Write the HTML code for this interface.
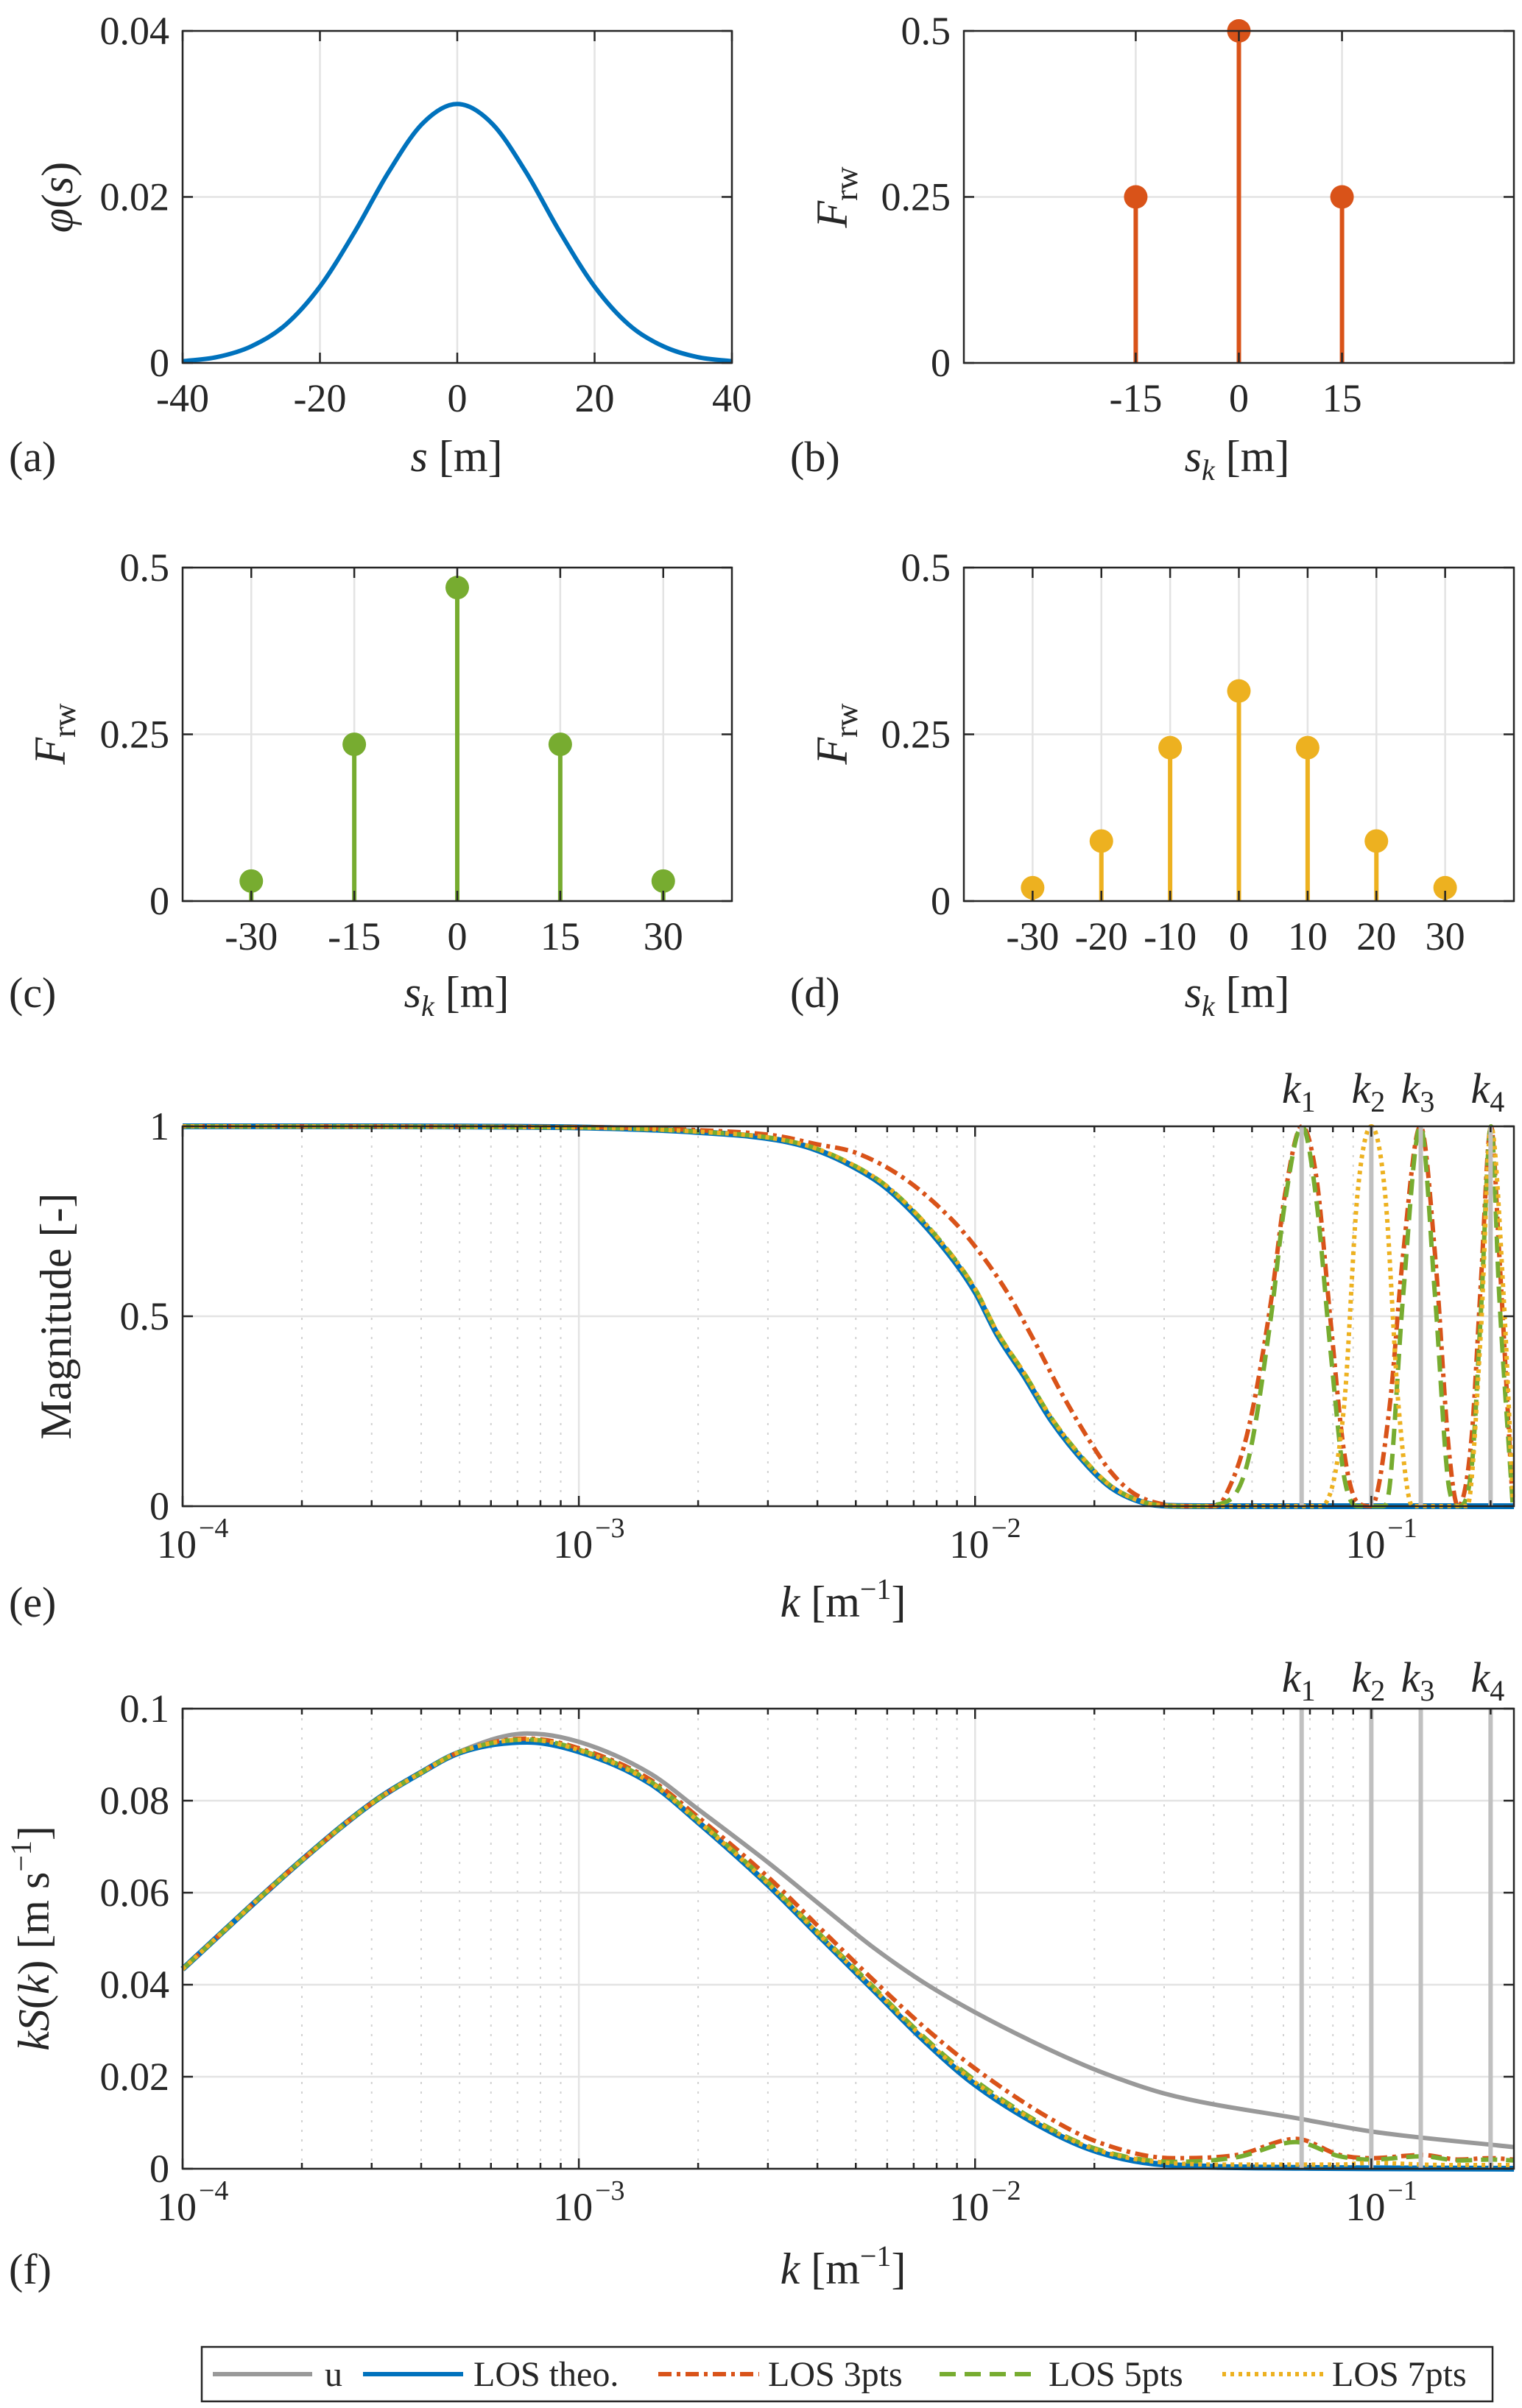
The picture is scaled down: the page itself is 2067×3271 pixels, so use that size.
<!DOCTYPE html>
<html><head><meta charset="utf-8"><style>
html,body{margin:0;padding:0;background:#fff;}
svg{display:block;font-family:"Liberation Serif","DejaVu Serif",serif;}
svg text{font-family:"Liberation Serif","DejaVu Serif",serif;}
</style></head><body>
<svg id="fig" width="2067" height="3271" viewBox="0 0 2067 3271" xmlns="http://www.w3.org/2000/svg" font-family="Liberation Serif, DejaVu Serif, serif"></svg>
<script>
// ---------- data ----------
const phiS = [-40,-35,-30,-25,-20,-15,-10,-5,0,5,10,15,20,25,30,35,40];
const phiV = [0.0002,0.0007,0.0020,0.0046,0.0092,0.0157,0.0230,0.0289,0.0312,0.0289,0.0230,0.0157,0.0092,0.0046,0.0020,0.0007,0.0002];
const bS = [-15,0,15];
const bF = [0.25,0.5,0.25];
const cS = [-30,-15,0,15,30];
const cF = [0.03,0.235,0.47,0.235,0.03];
const dS = [-30,-20,-10,0,10,20,30];
const dF = [0.02,0.09,0.23,0.315,0.23,0.09,0.02];
const kMarks = [0.0667,0.1,0.1333,0.2];
const kNames = ["1","2","3","4"];
// (e) magnitude, log10(k) and values
const eTheoK = [-4,-3.5,-3,-2.7,-2.5,-2.405,-2.3,-2.22,-2.094,-2,-1.945,-1.876,-1.806,-1.714,-1.657,-1.576,-1.507,-1.4,-0.64];
const eTheoV = [1,1,0.997,0.985,0.965,0.94,0.89,0.835,0.70,0.565,0.454,0.343,0.224,0.105,0.05,0.01,0.001,0,0];
const e3K = [-4,-3,-2.7,-2.5,-2.405,-2.3,-2.175,-2.06,-2,-1.92,-1.853,-1.783,-1.714,-1.657,-1.6,-1.53,-1.45,-1.392,-1.369,-1.311,-1.253,-1.218,-1.175,-1.138,-1.104,-1.069,-1.035,-1.0,-0.954,-0.92,-0.876,-0.839,-0.804,-0.781,-0.747,-0.724,-0.698,-0.677,-0.643];
const e3V = [1,0.998,0.99,0.975,0.954,0.93,0.86,0.756,0.684,0.565,0.44,0.30,0.177,0.09,0.034,0.006,0,0,0.026,0.2,0.54,0.82,1,0.86,0.5,0.145,0.01,0,0.26,0.66,1,0.66,0.145,0,0.18,0.58,1,0.66,0];
const e5K = [-4,-3,-2.7,-2.5,-2.405,-2.3,-2.22,-2.094,-2,-1.945,-1.876,-1.806,-1.714,-1.657,-1.576,-1.507,-1.45,-1.369,-1.311,-1.253,-1.218,-1.175,-1.138,-1.104,-1.069,-1.035,-0.97,-0.954,-0.92,-0.876,-0.839,-0.804,-0.78,-0.747,-0.724,-0.698,-0.677,-0.643];
const e5V = [1,0.997,0.986,0.967,0.943,0.894,0.84,0.706,0.572,0.46,0.35,0.23,0.11,0.053,0.011,0.001,0,0.01,0.12,0.50,0.8,1,0.8,0.42,0.08,0,0,0.05,0.55,1,0.55,0.05,0,0.1,0.5,1,0.55,0];
const e7K = [-4,-3,-2.7,-2.5,-2.405,-2.3,-2.22,-2.094,-2,-1.945,-1.876,-1.806,-1.714,-1.657,-1.576,-1.507,-1.4,-1.127,-1.069,-1.035,-1.0,-0.965,-0.931,-0.896,-0.758,-0.724,-0.698,-0.666,-0.643];
const e7V = [1,0.997,0.986,0.967,0.943,0.894,0.84,0.706,0.572,0.46,0.35,0.23,0.11,0.053,0.011,0.001,0,0,0.26,0.82,1,0.82,0.26,0,0,0.45,1,0.55,0.02];
// (f) kS(k)
const fK = [-4,-3.7,-3.52,-3.4,-3.3,-3.13,-3,-2.82,-2.7,-2.52,-2.39,-2.26,-2.13,-2,-1.82,-1.69,-1.52,-1.17,-1.0,-0.64];
const fU = [0.0434,0.067,0.0796,0.086,0.0907,0.0946,0.0928,0.0859,0.0782,0.0664,0.0573,0.0483,0.0405,0.0340,0.0262,0.0213,0.0163,0.0107,0.0081,0.0047];
const fTheo = [0.0434,0.067,0.0796,0.086,0.0905,0.0928,0.0907,0.0838,0.0754,0.0615,0.0503,0.0392,0.028,0.0183,0.0086,0.0037,0.0009,0.0002,0.0001,0];
const fLK = [-4,-3.7,-3.52,-3.4,-3.3,-3.13,-3,-2.82,-2.7,-2.52,-2.39,-2.26,-2.13,-2,-1.82,-1.69,-1.5,-1.34,-1.19,-1.08,-1.0,-0.87,-0.78,-0.7,-0.64];
const f3 = [0.0434,0.067,0.0796,0.086,0.0906,0.0935,0.0914,0.0846,0.0765,0.0632,0.0522,0.0413,0.0309,0.0218,0.0114,0.0058,0.0023,0.003,0.0065,0.003,0.0023,0.003,0.002,0.0023,0.002];
const f5 = [0.0434,0.067,0.0796,0.086,0.0906,0.0933,0.0911,0.0842,0.0758,0.0620,0.0508,0.0398,0.0287,0.0192,0.0092,0.0042,0.0015,0.0025,0.0058,0.0027,0.002,0.0027,0.0018,0.002,0.0018];
const f7 = [0.0434,0.067,0.0796,0.086,0.0906,0.0933,0.0910,0.0840,0.0756,0.0618,0.0506,0.0395,0.0284,0.0188,0.0090,0.0040,0.0012,0.0009,0.0009,0.0009,0.0013,0.0009,0.0008,0.0008,0.0008];

// ---------- helpers ----------
const NS="http://www.w3.org/2000/svg";
const FONT="Liberation Serif, DejaVu Serif, serif";
const svg=document.getElementById('fig');
function mk(tag,attrs,parent){const e=document.createElementNS(NS,tag);for(const k in attrs)e.setAttribute(k,attrs[k]);(parent||svg).appendChild(e);return e;}
function txt(x,y,s,size,anchor,parent,italic){const t=mk('text',{x:x,y:y,'font-size':size,'font-family':FONT,'text-anchor':anchor||'middle',fill:'#262626'},parent);if(italic)t.setAttribute('font-style','italic');t.textContent=s;return t;}
const C={blue:'#0072BD',red:'#D95319',yellow:'#EDB120',green:'#77AC30',gray:'#999999',kline:'#c0c0c0'};

function monoPath(px,py){
  const n=px.length; if(n<2) return '';
  const d=[],m=new Array(n);
  for(let i=0;i<n-1;i++) d.push((py[i+1]-py[i])/(px[i+1]-px[i]));
  m[0]=d[0]; m[n-1]=d[n-2];
  for(let i=1;i<n-1;i++){ m[i]=(d[i-1]*d[i]<=0)?0:(d[i-1]+d[i])/2; }
  for(let i=0;i<n-1;i++){ if(d[i]===0){m[i]=0;m[i+1]=0;continue;} const a=m[i]/d[i],b=m[i+1]/d[i],s=a*a+b*b; if(s>9){const t=3/Math.sqrt(s);m[i]=t*a*d[i];m[i+1]=t*b*d[i];} }
  let p='M'+px[0].toFixed(1)+','+py[0].toFixed(1);
  for(let i=0;i<n-1;i++){const h=(px[i+1]-px[i])/3;
    p+=' C'+(px[i]+h).toFixed(1)+','+(py[i]+m[i]*h).toFixed(1)+' '+(px[i+1]-h).toFixed(1)+','+(py[i+1]-m[i+1]*h).toFixed(1)+' '+px[i+1].toFixed(1)+','+py[i+1].toFixed(1);}
  return p;
}

function axes(o){
  const g=mk('g',{});
  
  
  o.g=g;
  o.X=v=>o.log? o.x0+(Math.log10(v)-o.xmin)/(o.xmax-o.xmin)*(o.x1-o.x0) : o.x0+(v-o.xmin)/(o.xmax-o.xmin)*(o.x1-o.x0);
  o.XL=l=>o.x0+(l-o.xmin)/(o.xmax-o.xmin)*(o.x1-o.x0);
  o.Y=v=>o.y1-(v-o.ymin)/(o.ymax-o.ymin)*(o.y1-o.y0);
  mk('rect',{x:o.x0,y:o.y0,width:o.x1-o.x0,height:o.y1-o.y0,fill:'#fff'},g);
  const grid=mk('g',{},g);
  
  
  if(o.log){
    for(let dcd=Math.floor(o.xmin);dcd<=Math.ceil(o.xmax);dcd++){
      for(let m=2;m<=9;m++){const l=dcd+Math.log10(m); if(l<=o.xmin||l>=o.xmax) continue; const x=o.XL(l);
        mk('line',{x1:x,x2:x,y1:o.y0,y2:o.y1,stroke:'#d2d2d2','stroke-width':2,'stroke-dasharray':'3,10'},grid);}
    }
  }
  o.xt.forEach(v=>{const x=o.log?o.XL(v):o.X(v); mk('line',{x1:x,x2:x,y1:o.y0,y2:o.y1,stroke:'#e3e3e3','stroke-width':2.5},grid);});
  o.yt.forEach(v=>{const y=o.Y(v); mk('line',{x1:o.x0,x2:o.x1,y1:y,y2:y,stroke:'#e3e3e3','stroke-width':2.5},grid);});
  o.plot=mk('g',{},g);
  
  
  return o;
}
function finishAxes(o){
  const g=o.g;
  const tk=mk('g',{stroke:'#262626','stroke-width':2.5},g);
  
  
  o.xt.forEach(v=>{const x=o.log?o.XL(v):o.X(v); mk('line',{x1:x,x2:x,y1:o.y1,y2:o.y1-14},tk); mk('line',{x1:x,x2:x,y1:o.y0,y2:o.y0+14},tk);});
  if(o.log){for(let dcd=Math.floor(o.xmin);dcd<=Math.ceil(o.xmax);dcd++){for(let m=2;m<=9;m++){const l=dcd+Math.log10(m); if(l<=o.xmin||l>=o.xmax) continue; const x=o.XL(l);
    mk('line',{x1:x,x2:x,y1:o.y1,y2:o.y1-8},tk); mk('line',{x1:x,x2:x,y1:o.y0,y2:o.y0+8},tk);}}}
  o.yt.forEach(v=>{const y=o.Y(v); mk('line',{x1:o.x0,x2:o.x0+14,y1:y,y2:y},tk); mk('line',{x1:o.x1,x2:o.x1-14,y1:y,y2:y},tk);});
  mk('rect',{x:o.x0,y:o.y0,width:o.x1-o.x0,height:o.y1-o.y0,fill:'none',stroke:'#262626','stroke-width':2.5},g);
  const lb=mk('g',{},g);
  
  
  o.yt.forEach((v,i)=>{txt(o.x0-18,o.Y(v)+18,o.ytl[i],54,'end',lb);});
  o.xt.forEach((v,i)=>{
    if(o.log){const x=o.XL(v); const t=mk('text',{x:x-8,y:o.y1+70,'font-size':54,'font-family':FONT,'text-anchor':'middle',fill:'#262626'},lb); t.textContent='10';
      const s=mk('text',{x:x+22,y:o.y1+42,'font-size':38,'font-family':FONT,'text-anchor':'start',fill:'#262626'},lb); s.textContent='−'+(-v);}
    else txt(o.X(v),o.y1+66,o.xtl[i],54,'middle',lb);
  });
}
function line(o,xs,ys,color,dash,w,name,isLog){
  const px=xs.map(v=>isLog?o.XL(v):o.X(v)), py=ys.map(v=>o.Y(v));
  const p=mk('path',{d:monoPath(px,py),fill:'none',stroke:color,'stroke-width':w||6,'stroke-linejoin':'round'},o.plot);
  if(dash) p.setAttribute('stroke-dasharray',dash);
  
  
}
function stems(o,xs,ys,color,name){
  xs.forEach((v,i)=>{
    const gg=mk('g',{},o.plot);
    
    
    mk('line',{x1:o.X(v),x2:o.X(v),y1:o.Y(0),y2:o.Y(ys[i]),stroke:color,'stroke-width':6},gg);
    mk('circle',{cx:o.X(v),cy:o.Y(ys[i]),r:16,fill:color},gg);
  });
}
function ylabelRot(x,y,parts,name){
  const t=mk('text',{x:0,y:0,'font-size':60,'font-family':FONT,'text-anchor':'middle',fill:'#262626',transform:'translate('+x+','+y+') rotate(-90)'});
  
  
  parts.forEach(p=>{const s=mk('tspan',{},t); s.textContent=p[0]; if(p[1]) s.setAttribute('font-style','italic'); if(p[2]) {s.setAttribute('font-size',p[2]); } if(p[3]) s.setAttribute('dy',p[3]);});
}
function xlabel(x,y,parts,name){
  const t=mk('text',{x:x,y:y,'font-size':60,'font-family':FONT,'text-anchor':'middle',fill:'#262626'});
  
  
  parts.forEach(p=>{const s=mk('tspan',{},t); s.textContent=p[0]; if(p[1]) s.setAttribute('font-style','italic'); if(p[2]) s.setAttribute('font-size',p[2]); if(p[3]) s.setAttribute('dy',p[3]);});
}
function panel(x,y,s,name){const t=txt(x,y,s,58,'start');}

// ---------- (a) ----------
const A=axes({name:'panel-a',x0:248,x1:994,y0:42,y1:493,xmin:-40,xmax:40,ymin:0,ymax:0.04,xt:[-40,-20,0,20,40],xtl:['-40','-20','0','20','40'],yt:[0,0.02,0.04],ytl:['0','0.02','0.04']});
line(A,phiS,phiV,C.blue,null,6,'phi-curve',false);
finishAxes(A);
xlabel(620,640,[['s',1],[' [m]']],'x-axis-title-a');
ylabelRot(98,268,[['φ',1],['('],['s',1],[')']],'y-axis-title-a');
panel(12,640,'(a)','panel-label-a');

// ---------- (b) ----------
const B=axes({name:'panel-b',x0:1309,x1:2056,y0:42,y1:493,xmin:-40,xmax:40,ymin:0,ymax:0.5,xt:[-15,0,15],xtl:['-15','0','15'],yt:[0,0.25,0.5],ytl:['0','0.25','0.5']});
stems(B,bS,bF,C.red,'stem-b');
finishAxes(B);
xlabel(1680,640,[['s',1],['k',1,40,12],[' [m]',null,60,-12]],'x-axis-title-b');
ylabelRot(1150,268,[['F',1],['rw',null,44,14]],'y-axis-title-b');
panel(1073,640,'(b)','panel-label-b');

// ---------- (c) ----------
const Cc=axes({name:'panel-c',x0:248,x1:994,y0:771,y1:1224,xmin:-40,xmax:40,ymin:0,ymax:0.5,xt:[-30,-15,0,15,30],xtl:['-30','-15','0','15','30'],yt:[0,0.25,0.5],ytl:['0','0.25','0.5']});
stems(Cc,cS,cF,C.green,'stem-c');
finishAxes(Cc);
xlabel(620,1368,[['s',1],['k',1,40,12],[' [m]',null,60,-12]],'x-axis-title-c');
ylabelRot(88,997,[['F',1],['rw',null,44,14]],'y-axis-title-c');
panel(12,1368,'(c)','panel-label-c');

// ---------- (d) ----------
const D=axes({name:'panel-d',x0:1309,x1:2056,y0:771,y1:1224,xmin:-40,xmax:40,ymin:0,ymax:0.5,xt:[-30,-20,-10,0,10,20,30],xtl:['-30','-20','-10','0','10','20','30'],yt:[0,0.25,0.5],ytl:['0','0.25','0.5']});
stems(D,dS,dF,C.yellow,'stem-d');
finishAxes(D);
xlabel(1680,1368,[['s',1],['k',1,40,12],[' [m]',null,60,-12]],'x-axis-title-d');
ylabelRot(1150,997,[['F',1],['rw',null,44,14]],'y-axis-title-d');
panel(1073,1368,'(d)','panel-label-d');

// ---------- (e) ----------
const Lmax=Math.log10(0.229);
const E=axes({name:'panel-e',x0:248,x1:2056,y0:1530,y1:2046,xmin:-4,xmax:Lmax,ymin:0,ymax:1,log:true,xt:[-4,-3,-2,-1],yt:[0,0.5,1],ytl:['0','0.5','1']});
line(E,eTheoK,eTheoV,C.blue,null,8,'los-theo-e',true);
line(E,e3K,e3V,C.red,'18,7,5,7',6,'los-3pts-e',true);
line(E,e5K,e5V,C.green,'22,12',6,'los-5pts-e',true);
line(E,e7K,e7V,C.yellow,'5,6',6,'los-7pts-e',true);
kMarks.forEach((k,i)=>{const x=E.X(k); const l=mk('line',{x1:x,x2:x,y1:E.y0,y2:E.y1,stroke:C.kline,'stroke-width':6},E.plot);
  
  });
finishAxes(E);
kMarks.forEach((k,i)=>{const x=E.X(k); const t=mk('text',{x:x-4,y:1498,'font-size':58,'font-family':FONT,'text-anchor':'middle',fill:'#262626'});
  
  
  const a=mk('tspan',{'font-style':'italic'},t);a.textContent='k';const b=mk('tspan',{'font-size':40,dy:12},t);b.textContent=kNames[i];});
xlabel(1145,2196,[['k',1],[' [m'],['−1',null,40,-24],[']',null,60,24]],'x-axis-title-e');
ylabelRot(96,1788,[['Magnitude [-]']],'y-axis-title-e');
panel(12,2196,'(e)','panel-label-e');

// ---------- (f) ----------
const F=axes({name:'panel-f',x0:248,x1:2056,y0:2321,y1:2946,xmin:-4,xmax:Lmax,ymin:0,ymax:0.1,log:true,xt:[-4,-3,-2,-1],yt:[0,0.02,0.04,0.06,0.08,0.1],ytl:['0','0.02','0.04','0.06','0.08','0.1']});
line(F,fK,fU,C.gray,null,6,'u-curve-f',true);
line(F,fK,fTheo,C.blue,null,8,'los-theo-f',true);
line(F,fLK,f3,C.red,'18,7,5,7',6,'los-3pts-f',true);
line(F,fLK,f5,C.green,'22,12',6,'los-5pts-f',true);
line(F,fLK,f7,C.yellow,'5,6',6,'los-7pts-f',true);
kMarks.forEach((k,i)=>{const x=F.X(k); const l=mk('line',{x1:x,x2:x,y1:F.y0,y2:F.y1,stroke:C.kline,'stroke-width':6},F.plot);
  
  });
finishAxes(F);
kMarks.forEach((k,i)=>{const x=F.X(k); const t=mk('text',{x:x-4,y:2298,'font-size':58,'font-family':FONT,'text-anchor':'middle',fill:'#262626'});
  
  
  const a=mk('tspan',{'font-style':'italic'},t);a.textContent='k';const b=mk('tspan',{'font-size':40,dy:12},t);b.textContent=kNames[i];});
xlabel(1145,3102,[['k',1],[' [m'],['−1',null,40,-24],[']',null,60,24]],'x-axis-title-f');
ylabelRot(66,2633,[['kS',1],['('],['k',1],[') [m s'],['−1',null,40,-24],[']',null,60,24]],'y-axis-title-f');
panel(12,3102,'(f)','panel-label-f');

// ---------- legend ----------
const lg=mk('g',{});


mk('rect',{x:274,y:3188,width:1753,height:74,fill:'#fff',stroke:'#262626','stroke-width':2.5},lg);
const legItems=[['u',C.gray,null,289,424,441],['LOS theo.',C.blue,null,493,629,643],['LOS 3pts',C.red,'18,7,5,7',894,1031,1043],['LOS 5pts',C.green,'22,12',1276,1411,1424],['LOS 7pts',C.yellow,'5,6',1660,1797,1809]];
legItems.forEach(it=>{
  const e=mk('g',{},lg);
  
  
  const l=mk('line',{x1:it[3],x2:it[4],y1:3225,y2:3225,stroke:it[1],'stroke-width':6},e);
  if(it[2]) l.setAttribute('stroke-dasharray',it[2]);
  txt(it[5],3241,it[0],48,'start',e);
});
</script>
</body></html>
